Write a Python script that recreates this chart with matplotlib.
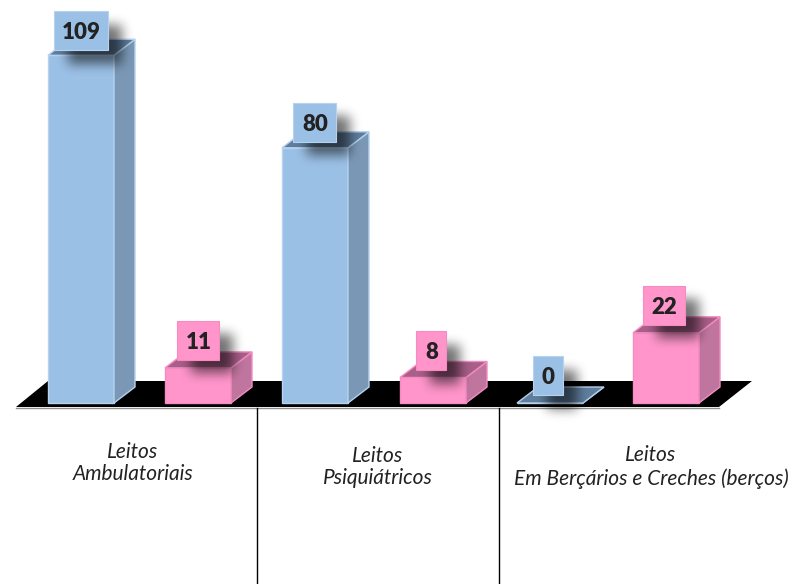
import matplotlib
matplotlib.use('Agg')
import matplotlib.pyplot as plt
import numpy as np
from matplotlib.patches import Polygon, Rectangle

plt.rcParams['font.family'] = ['Lato', 'DejaVu Sans']

values = [109, 11, 80, 8, 0, 22]
bar_left = [48, 165, 282, 400, 517, 633]
box_left = [54, 177, 293, 416, 533, 643]
box_width = [54, 42, 43, 30, 30, 42]
box_gap = [5, 8, 6, 7, 8, 8]
group_labels = ['Leitos\nAmbulatoriais', 'Leitos\nPsiquiátricos',
                'Leitos\nEm Berçários e Creches (berços)']
label_x = [133, 378, 651]
label_y = [463, 467, 467]
dividers = [257, 499]

blue = {'front': '#9bc0e6', 'side': '#7a98b6', 'top': '#5f7d9c', 'edge': '#b5d2ef'}
pink = {'front': '#ff95cb', 'side': '#c0759f', 'top': '#a85f88', 'edge': '#f48cc2'}

base = 403
scale = 3.19
bar_w = 66
dx, dy = 21, -16
box_h = 39
W, H = 794, 584


def blur(a, r):
    # three box passes is close enough to a gaussian
    k = np.ones(2 * r + 1) / (2 * r + 1)
    for _ in range(3):
        a = np.apply_along_axis(lambda m: np.convolve(m, k, mode='same'), 0, a)
        a = np.apply_along_axis(lambda m: np.convolve(m, k, mode='same'), 1, a)
    return a


def shadow(ax, x, y, w, h, z):
    x0, y0 = max(int(x) - 30, 0), max(int(y) - 30, 0)
    x1, y1 = min(int(x + w) + 30, W), min(int(y + h) + 30, H)
    a = np.zeros((y1 - y0, x1 - x0))
    a[int(y) - y0:int(y + h) - y0, int(x) - x0:int(x + w) - x0] = 1
    a = blur(a, 5) * 0.55
    img = np.zeros(a.shape + (4,))
    img[..., 3] = a
    ax.imshow(img, extent=(x0, x1, y1, y0), aspect='auto', zorder=z, interpolation='bilinear')


fig = plt.figure(figsize=(7.94, 5.84), dpi=100)
ax = fig.add_axes([0, 0, 1, 1])

# floor
ax.add_patch(Polygon([(16, 407), (719, 407), (752, 381), (48, 381)],
                     fc='black', ec='none', zorder=1))
ax.plot([16, 719], [407.5, 407.5], color='#8f8f8f', lw=1, zorder=1)

for x in dividers:
    ax.plot([x, x], [408, 584], color='black', lw=1, zorder=1)

for i, v in enumerate(values):
    c = blue if i % 2 == 0 else pink
    x = bar_left[i]
    top = base - v * scale
    ax.add_patch(Rectangle((x, top), bar_w, base - top, fc=c['front'], ec=c['edge'], lw=1, zorder=2))
    ax.add_patch(Polygon([(x + bar_w, base), (x + bar_w + dx, base + dy),
                          (x + bar_w + dx, top + dy), (x + bar_w, top)],
                         fc=c['side'], ec=c['edge'], lw=1, zorder=2))
    ax.add_patch(Polygon([(x, top), (x + dx, top + dy), (x + bar_w + dx, top + dy), (x + bar_w, top)],
                         fc=c['top'], ec=c['edge'], lw=1, zorder=2))

    bl = box_left[i]
    bw = box_width[i]
    by = top - box_gap[i] - box_h
    shadow(ax, bl + 14, by + 14, bw, box_h, 3)
    ax.add_patch(Rectangle((bl, by), bw, box_h, fc=c['front'], ec=c['edge'], lw=0.8, zorder=4))
    ax.text(bl + bw / 2 + 0.5, by + box_h / 2 + 2, str(v), ha='center', va='center',
            fontsize=16, fontweight='heavy', color='#222222', zorder=5)

for t, x, y in zip(group_labels, label_x, label_y):
    ax.text(x, y, t, ha='center', va='center', fontsize=15, style='italic',
            color='#222222', linespacing=1.15, zorder=5)

ax.set_xlim(0, W)
ax.set_ylim(H, 0)
ax.axis('off')

fig.savefig('out.png', dpi=100)
